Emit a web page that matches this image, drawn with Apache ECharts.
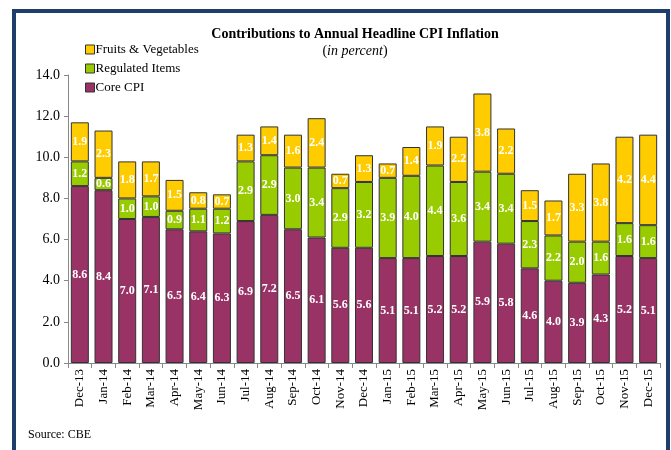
<!DOCTYPE html>
<html>
<head>
<meta charset="utf-8">
<script src="https://cdn.jsdelivr.net/npm/echarts@6/dist/echarts.min.js"></script>
<style>
  html, body { margin: 0; padding: 0; background: #fff; }
  #chart { width: 671px; height: 450px; }
</style>
</head>
<body>
<div id="chart"></div>
<script>
const categories = ["Dec-13", "Jan-14", "Feb-14", "Mar-14", "Apr-14", "May-14", "Jun-14", "Jul-14", "Aug-14", "Sep-14", "Oct-14", "Nov-14", "Dec-14",
  "Jan-15", "Feb-15", "Mar-15", "Apr-15", "May-15", "Jun-15", "Jul-15", "Aug-15", "Sep-15", "Oct-15", "Nov-15", "Dec-15"];
const coreCpi = [8.6, 8.4, 7.0, 7.1, 6.5, 6.4, 6.3, 6.9, 7.2, 6.5, 6.1, 5.6, 5.6, 5.1, 5.1, 5.2, 5.2, 5.9, 5.8, 4.6, 4.0, 3.9, 4.3, 5.2, 5.1];
const regulated = [1.2, 0.6, 1.0, 1.0, 0.9, 1.1, 1.2, 2.9, 2.9, 3.0, 3.4, 2.9, 3.2, 3.9, 4.0, 4.4, 3.6, 3.4, 3.4, 2.3, 2.2, 2.0, 1.6, 1.6, 1.6];
const fruitsVeg = [1.9, 2.3, 1.8, 1.7, 1.5, 0.8, 0.7, 1.3, 1.4, 1.6, 2.4, 0.7, 1.3, 0.7, 1.4, 1.9, 2.2, 3.8, 2.2, 1.5, 1.7, 3.3, 3.8, 4.2, 4.4];

const serif = "Liberation Serif";
const chart = echarts.init(document.getElementById("chart"));

function barSeries(name, data, color) {
  return {
    name: name,
    type: "bar",
    stack: "cpi",
    data: data,
    barWidth: "76%",
    itemStyle: { color: color, borderColor: "#333", borderWidth: 1 },
    label: {
      show: true,
      position: "inside",
      color: "#fff",
      fontFamily: serif,
      fontWeight: "bold",
      fontSize: 12,
      formatter: (p) => p.value.toFixed(1),
    },
  };
}

const option = {
  animation: false,
  backgroundColor: "#fff",
  textStyle: { fontFamily: serif },
  title: {
    text: "Contributions to Annual Headline CPI Inflation",
    subtext: "{n|(}{i|in percent}{n|)}",
    left: 350,
    textAlign: "center",
    top: 22,
    itemGap: 3,
    textStyle: { fontFamily: serif, fontWeight: "bold", fontSize: 14, color: "#000" },
    subtextStyle: {
      rich: {
        n: { fontFamily: serif, fontSize: 14, color: "#000" },
        i: { fontFamily: serif, fontSize: 14, fontStyle: "italic", color: "#000" },
      },
    },
  },
  legend: {
    orient: "vertical",
    left: 80,
    top: 38,
    icon: "rect",
    itemWidth: 9,
    itemHeight: 9,
    itemGap: 6,
    textStyle: { fontFamily: serif, fontSize: 13, color: "#000", padding: [0, 0, 0, -4] },
    data: [
      { name: "Fruits & Vegetables", itemStyle: { borderColor: "#333", borderWidth: 1 } },
      { name: "Regulated Items", itemStyle: { borderColor: "#333", borderWidth: 1 } },
      { name: "Core CPI", itemStyle: { borderColor: "#333", borderWidth: 1 } },
    ],
  },
  grid: { left: 68, right: 11, top: 75, bottom: 87 },
  xAxis: {
    type: "category",
    data: categories,
    axisLine: { lineStyle: { color: "#888" } },
    axisTick: { show: true, length: 5, lineStyle: { color: "#888" } },
    axisLabel: { rotate: 90, fontFamily: serif, fontSize: 13, color: "#000", margin: 6, interval: 0 },
  },
  yAxis: {
    type: "value",
    min: 0,
    max: 14,
    interval: 2,
    axisLine: { show: true, lineStyle: { color: "#888" } },
    axisTick: { show: true, length: 4, lineStyle: { color: "#888" } },
    splitLine: { show: false },
    axisLabel: { fontFamily: serif, fontSize: 14, color: "#000", margin: 8, formatter: (v) => v.toFixed(1) },
  },
  series: [
    barSeries("Core CPI", coreCpi, "#993366"),
    barSeries("Regulated Items", regulated, "#99CC00"),
    barSeries("Fruits & Vegetables", fruitsVeg, "#FFCC00"),
  ],
  graphic: [
    {
      type: "polyline",
      shape: { points: [[14, 460], [14, 11], [668, 11], [668, 460]] },
      style: { stroke: "#1F3D6B", lineWidth: 4, fill: null },
      silent: true,
    },
    {
      type: "text",
      left: 28,
      top: 429,
      style: { text: "Source: CBE", font: "12px 'Liberation Serif'", fill: "#000" },
    },
  ],
};

chart.setOption(option);
</script>
</body>
</html>
